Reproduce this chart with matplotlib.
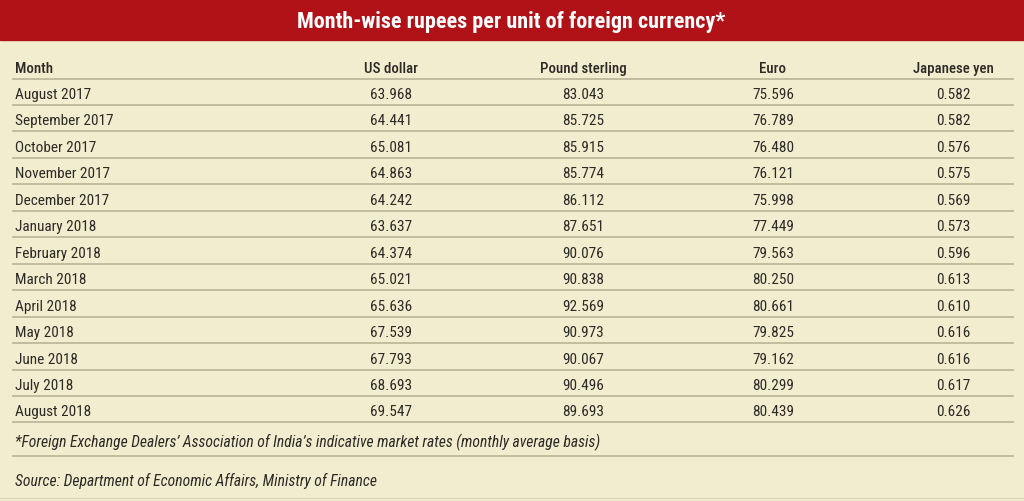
import matplotlib
matplotlib.use("Agg")
import matplotlib.pyplot as plt
from matplotlib import font_manager as fm

title = "Month-wise rupees per unit of foreign currency*"
headers = ["Month", "US dollar", "Pound sterling", "Euro", "Japanese yen"]
months = ["August 2017", "September 2017", "October 2017", "November 2017",
          "December 2017", "January 2018", "February 2018", "March 2018",
          "April 2018", "May 2018", "June 2018", "July 2018", "August 2018"]
usd = ["63.968", "64.441", "65.081", "64.863", "64.242", "63.637", "64.374",
       "65.021", "65.636", "67.539", "67.793", "68.693", "69.547"]
gbp = ["83.043", "85.725", "85.915", "85.774", "86.112", "87.651", "90.076",
       "90.838", "92.569", "90.973", "90.067", "90.496", "89.693"]
eur = ["75.596", "76.789", "76.480", "76.121", "75.998", "77.449", "79.563",
       "80.250", "80.661", "79.825", "79.162", "80.299", "80.439"]
jpy = ["0.582", "0.582", "0.576", "0.575", "0.569", "0.573", "0.596",
       "0.613", "0.610", "0.616", "0.616", "0.617", "0.626"]
footnote = "*Foreign Exchange Dealers\u2019 Association of India\u2019s indicative market rates (monthly average basis)"
source = "Source: Department of Economic Affairs, Ministry of Finance"

# ---- pick a narrow font if one is installed ----
names = {f.name for f in fm.fontManager.ttflist}
narrow = [n for n in ["Roboto Condensed", "Liberation Sans Narrow",
                      "Open Sans Condensed", "Noto Sans Condensed",
                      "DejaVu Sans Condensed"] if n in names]
stretch = "normal"
if narrow:
    FAM = [narrow[0], "Liberation Sans", "DejaVu Sans"]
else:
    FAM = ["Liberation Sans", "DejaVu Sans"]

HEAD_W = "medium" if any(f.name == FAM[0] and f.weight in (500, "medium")
                         for f in fm.fontManager.ttflist) else "bold"

W, H = 1024, 501
fig = plt.figure(figsize=(W / 100, H / 100), dpi=100)
ax = fig.add_axes([0, 0, 1, 1])
ax.set_xlim(0, W)
ax.set_ylim(H, 0)
ax.axis("off")
renderer = fig.canvas.get_renderer()

BG = "#F2EDCF"
RED = "#B01218"
LINE = "#BEB89C"
TXT = "#2B2A26"


def fit(text, target_px, **kw):
    t = ax.text(0, 0, text, fontsize=10, family=FAM, stretch=stretch, **kw)
    w = t.get_window_extent(renderer).width
    t.remove()
    return 10 * target_px / w


fs_title = fit(title, 427, fontweight="bold")
fs_head = (fit("Japanese yen", 80, fontweight=HEAD_W) + fit("US dollar", 54, fontweight=HEAD_W)) / 2
fs_body = (fit("September 2017", 98) + fit("August 2017", 75)) / 2
fs_note = (fit(footnote, 583, style="italic") + fit(source, 361, style="italic")) / 2

ax.add_patch(plt.Rectangle((0, 0), W, H, color=BG, zorder=0))
ax.add_patch(plt.Rectangle((0, 0), W, 39.5, color=RED, zorder=1))
ax.plot([0, W], [497.5, 497.5], color="#DCD6B8", lw=1.0)
ax.text(511.5, 28, title, color="white", fontsize=fs_title, fontweight="bold",
        ha="center", va="baseline", family=FAM, stretch=stretch, zorder=2)

col_x = [15, 391, 583, 773, 953]
LX0, LX1 = 13, 1013

for j, h in enumerate(headers):
    ax.text(col_x[j], 73, h, ha="left" if j == 0 else "center", va="baseline",
            fontsize=fs_head, fontweight=HEAD_W, color=TXT, family=FAM,
            stretch=stretch)
ax.plot([LX0, LX1], [79, 79], color=LINE, lw=1.3)

dy = 26.45
cols = [months, usd, gbp, eur, jpy]
for i in range(len(months)):
    y = 99 + i * dy
    for j, c in enumerate(cols):
        ax.text(col_x[j], y, c[i], ha="left" if j == 0 else "center",
                va="baseline", fontsize=fs_body, color=TXT, family=FAM,
                stretch=stretch)
    ly = 105 + i * dy
    ax.plot([LX0, LX1], [ly, ly], color=LINE, lw=1.3)

ax.text(15, 447, footnote, ha="left", va="baseline", fontsize=fs_note,
        style="italic", color=TXT, family=FAM, stretch=stretch)
ax.plot([LX0, LX1], [455.5, 455.5], color=LINE, lw=1.3)
ax.text(15, 486, source, ha="left", va="baseline", fontsize=fs_note,
        style="italic", color=TXT, family=FAM, stretch=stretch)

fig.savefig("out.png", dpi=100, facecolor=BG)
